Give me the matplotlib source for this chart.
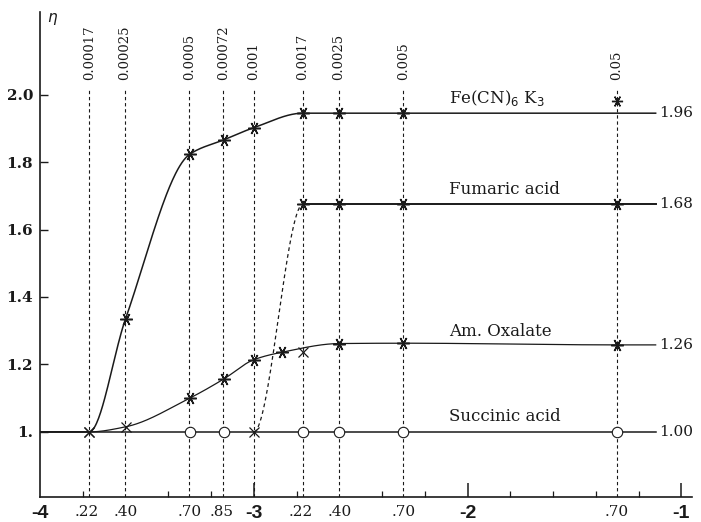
import numpy as np
import matplotlib
matplotlib.use('Agg')
from matplotlib import pyplot as plt

# concentrations marked at the top (mol), plotted on a log10 axis
conc_labels = ['0.00017', '0.00025', '0.0005', '0.00072', '0.001',
               '0.0017', '0.0025', '0.005', '0.05']
conc_log = np.log10([float(c) for c in conc_labels])

# bottom axis labels (log10 mantissas)
xtick_pos = [-4, -3.78, -3.6, -3.3, -3.15, -3, -2.78, -2.6, -2.3, -2, -1.3, -1]
xtick_lab = ['-4', '.22', '.40', '.70', '.85', '-3', '.22', '.40', '.70', '-2', '.70', '-1']
ytick_pos = [1.0, 1.2, 1.4, 1.6, 1.8, 2.0]
ytick_lab = ['1.', '1.2', '1.4', '1.6', '1.8', '2.0']

# Fe(CN)6 K3
fe_x = [-3.77, -3.6, -3.3, -3.14, -3.0, -2.77, -2.6, -2.3]
fe_y = [1.0, 1.335, 1.823, 1.866, 1.902, 1.945, 1.945, 1.945]
fe_last_x, fe_last_y = -1.3, 1.982

# Fumaric acid
fum_x = [-3.0, -2.77, -2.6, -2.3, -1.3]
fum_y = [1.0, 1.675, 1.675, 1.675, 1.675]

# Am. Oxalate
ox_x = [-3.77, -3.6, -3.3, -3.14, -3.0, -2.87, -2.6, -2.3, -1.3]
ox_y = [1.0, 1.015, 1.10, 1.157, 1.214, 1.236, 1.262, 1.263, 1.258]
ox_extra_x, ox_extra_y = -2.77, 1.237

# Succinic acid
suc_x = [-3.3, -3.14, -2.77, -2.6, -2.3, -1.3]
suc_y = [1.0, 1.0, 1.0, 1.0, 1.0, 1.0]

end_values = ['1.96', '1.68', '1.26', '1.00']
end_y = [1.945, 1.675, 1.257, 1.0]
names = ['Fe(CN)$_6$ K$_3$', 'Fumaric acid', 'Am. Oxalate', 'Succinic acid']
name_y = [1.99, 1.718, 1.297, 1.045]

X0, X1 = -4.0, -0.95
Y0, Y1 = 0.807, 2.245
LINE_END = -1.12
INK = '#1a1a1a'
STAR = (6, 2, 90)


def pchip(x, y, xs, flat_ends=False):
	x = np.asarray(x, float)
	y = np.asarray(y, float)
	h = np.diff(x)
	d = np.diff(y) / h
	m = np.zeros_like(y)
	if not flat_ends:
		m[0], m[-1] = d[0], d[-1]
	for k in range(1, len(x) - 1):
		if d[k - 1] * d[k] > 0:
			w1 = 2 * h[k] + h[k - 1]
			w2 = h[k] + 2 * h[k - 1]
			m[k] = (w1 + w2) / (w1 / d[k - 1] + w2 / d[k])
	idx = np.clip(np.searchsorted(x, xs) - 1, 0, len(x) - 2)
	t = (xs - x[idx]) / h[idx]
	h00 = 2 * t**3 - 3 * t**2 + 1
	h10 = t**3 - 2 * t**2 + t
	h01 = -2 * t**3 + 3 * t**2
	h11 = t**3 - t**2
	return h00 * y[idx] + h10 * h[idx] * m[idx] + h01 * y[idx + 1] + h11 * h[idx] * m[idx + 1]


def smooth(x, y, x_start=None, x_end=None, flat_ends=False):
	x = list(x)
	y = list(y)
	if x_start is not None:
		x = [x_start] + x
		y = [y[0]] + y
	if x_end is not None:
		x = x + [x_end]
		y = y + [y[-1]]
	xs = np.linspace(x[0], x[-1], 600)
	return xs, pchip(x, y, xs, flat_ends)


fig = plt.figure(figsize=(7.01, 5.22), dpi=100)
ax = fig.add_axes([40 / 701, 25 / 522, 652 / 701, 485 / 522])
ax.set_xlim(X0, X1)
ax.set_ylim(Y0, Y1)

for s in ['top', 'right']:
	ax.spines[s].set_visible(False)
for s in ['left', 'bottom']:
	ax.spines[s].set_linewidth(1.2)
	ax.spines[s].set_color(INK)

# dashed concentration guides and their labels
ax.vlines(conc_log, Y0, 2.02, colors=INK, linestyles=(0, (3, 2.5)), lw=0.8)
for xl, lab in zip(conc_log, conc_labels):
	ax.text(xl, 2.043, lab, rotation=90, ha='center', va='bottom',
		fontsize=9.5, family='DejaVu Serif', color=INK)

# Succinic acid baseline
ax.plot([X0, LINE_END], [1.0, 1.0], color=INK, lw=1.1)
ax.plot(suc_x, suc_y, ls='none', marker='o', ms=7.5, mfc='white', mec=INK, mew=0.8)

# Fe(CN)6 K3
xs, ys = smooth(fe_x, fe_y, X0, LINE_END)
ax.plot(xs, ys, color=INK, lw=1.1)
ax.plot(fe_x[1:], fe_y[1:], ls='none', marker=STAR, ms=9, mec=INK, mew=1.1)
ax.plot([fe_x[0]], [fe_y[0]], ls='none', marker='x', ms=7, mec=INK, mew=0.9)
ax.plot([fe_last_x], [fe_last_y], ls='none', marker=STAR, ms=8, mec=INK, mew=1.0)

# Fumaric acid: dashed S-shaped rise then flat
xs, ys = smooth(fum_x[:2], fum_y[:2], flat_ends=True)
ax.plot(xs, ys, color=INK, lw=0.9, ls=(0, (3, 2.5)))
ax.plot([fum_x[1], LINE_END], [fum_y[1], fum_y[-1]], color=INK, lw=1.4)
ax.plot(fum_x[1:], fum_y[1:], ls='none', marker=STAR, ms=9, mec=INK, mew=1.1)
ax.plot([fum_x[0]], [fum_y[0]], ls='none', marker='x', ms=7, mec=INK, mew=0.9)

# Am. Oxalate
xs, ys = smooth(ox_x, ox_y, X0, LINE_END)
ax.plot(xs, ys, color=INK, lw=0.9)
ax.plot(ox_x[2:], ox_y[2:], ls='none', marker=STAR, ms=9, mec=INK, mew=1.1)
ax.plot(ox_x[:2] + [ox_extra_x], ox_y[:2] + [ox_extra_y], ls='none', marker='x',
	ms=7, mec=INK, mew=0.9)

# curve names and end values
for nm, yy in zip(names, name_y):
	ax.text(-2.085, yy, nm, ha='left', va='center', fontsize=12,
		family='DejaVu Serif', color=INK)
for v, yy in zip(end_values, end_y):
	ax.text(-1.105, yy, v, ha='left', va='center', fontsize=11,
		family='DejaVu Serif', color=INK)

ax.text(-3.965, 2.225, r'$\eta$', ha='left', va='center', fontsize=11, color=INK)

# y axis
ax.set_yticks(ytick_pos)
ax.set_yticklabels(ytick_lab, fontsize=11, fontweight='bold', family='DejaVu Serif')
ax.tick_params(axis='y', direction='in', length=6, width=1.0, pad=5, colors=INK)

# x axis
ax.set_xticks(xtick_pos)
ax.set_xticklabels(xtick_lab)
ax.tick_params(axis='x', which='major', length=0, pad=6, colors=INK)
for lbl in ax.get_xticklabels():
	if lbl.get_text().startswith('-'):
		lbl.set_family('Liberation Sans')
		lbl.set_fontweight('bold')
		lbl.set_fontsize(14)
	else:
		lbl.set_family('DejaVu Serif')
		lbl.set_fontsize(11)
ax.set_xticks(np.arange(-3.8, -0.99, 0.2), minor=True)
ax.tick_params(axis='x', which='minor', direction='in', length=4, width=0.9, colors=INK)

sec = ax.secondary_xaxis('bottom')
sec.set_xticks([-3, -2, -1])
sec.set_xticklabels(['', '', ''])
sec.tick_params(direction='in', length=10, width=1.1, colors=INK)
sec.spines['bottom'].set_visible(False)

fig.savefig('out.png', dpi=100)
